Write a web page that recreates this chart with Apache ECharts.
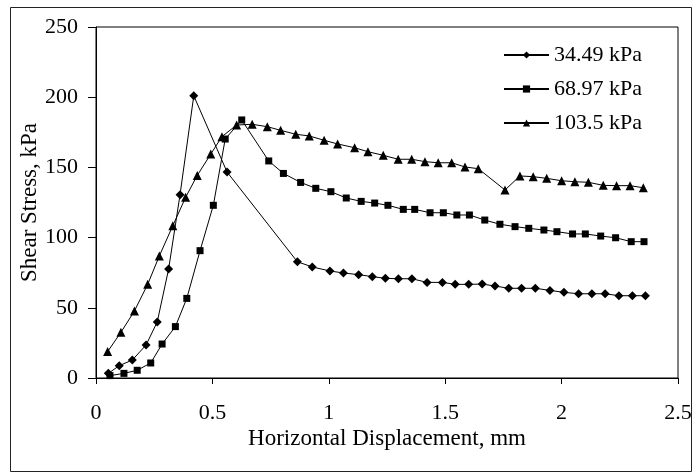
<!DOCTYPE html>
<html>
<head>
<meta charset="utf-8">
<script src="https://cdn.jsdelivr.net/npm/echarts@6/dist/echarts.min.js"></script>
<style>html,body{margin:0;padding:0;background:#fff}#c{width:696px;height:472px}</style>
</head>
<body>
<div id="c"></div>
<script>
var seriesNames = ['34.49 kPa', '68.97 kPa', '103.5 kPa'];
var xTitle = 'Horizontal Displacement, mm';
var yTitle = 'Shear Stress, kPa';

var x1 = [0.053, 0.100, 0.156, 0.215, 0.263, 0.312, 0.361, 0.420, 0.563, 0.865, 0.929, 1.005, 1.063, 1.128, 1.187, 1.243, 1.299, 1.357, 1.422, 1.488, 1.543, 1.601, 1.659, 1.714, 1.773, 1.828, 1.887, 1.950, 2.010, 2.073, 2.130, 2.187, 2.246, 2.304, 2.360];
var y1 = [3.3, 8.8, 12.8, 23.5, 39.9, 77.6, 130.6, 201, 146.7, 82.8, 79.1, 76.2, 74.8, 73.6, 72.2, 71, 70.7, 70.7, 68.1, 68.1, 66.7, 66.7, 66.9, 65.5, 63.9, 63.9, 63.9, 62.4, 61, 60, 60, 60, 58.6, 58.6, 58.6];

var x2 = [0.060, 0.120, 0.177, 0.235, 0.284, 0.341, 0.390, 0.447, 0.504, 0.555, 0.626, 0.742, 0.805, 0.879, 0.944, 1.009, 1.075, 1.139, 1.197, 1.254, 1.320, 1.369, 1.435, 1.492, 1.550, 1.604, 1.670, 1.735, 1.800, 1.859, 1.924, 1.980, 2.047, 2.102, 2.168, 2.232, 2.299, 2.354];
var y2 = [1.7, 3.3, 5.5, 10.7, 24.2, 36.6, 56.7, 90.7, 123, 170.2, 183.8, 154.6, 145.7, 139.3, 135.1, 132.7, 128.2, 125.8, 124.6, 123, 120.1, 120.1, 117.7, 117.7, 116.1, 116.1, 112.5, 109.5, 107.8, 106.6, 105.4, 104.2, 102.6, 102.6, 101.1, 99.9, 97.1, 97.1];

var x3 = [0.050, 0.107, 0.165, 0.222, 0.272, 0.330, 0.385, 0.435, 0.493, 0.541, 0.604, 0.671, 0.736, 0.793, 0.858, 0.916, 0.980, 1.038, 1.111, 1.168, 1.234, 1.298, 1.356, 1.413, 1.470, 1.528, 1.585, 1.642, 1.757, 1.821, 1.878, 1.936, 2.000, 2.057, 2.115, 2.179, 2.236, 2.294, 2.351];
var y3 = [18.8, 32.5, 47.7, 66.7, 86.9, 108.5, 128.7, 144.3, 159.5, 171.9, 180.2, 180.7, 179, 176.4, 173.6, 172.4, 169.3, 166.7, 164, 161.2, 158.6, 155.8, 155.8, 154.1, 153.3, 153.3, 150.3, 149.1, 133.9, 143.9, 143.4, 142.2, 140.5, 139.8, 139.4, 137.2, 137, 137, 135.5];

function zip(xs, ys) { return xs.map(function (x, i) { return [x, ys[i]]; }); }

var FONT = '"Liberation Serif", "Times New Roman", serif';
var chart = echarts.init(document.getElementById('c'), null, {renderer: 'canvas'});

function mkSeries(name, xs, ys, symbol, size) {
  return {
    name: name, type: 'line', data: zip(xs, ys),
    symbol: symbol, symbolSize: size, showSymbol: true,
    lineStyle: {color: '#000', width: 1},
    itemStyle: {color: '#000'},
    emphasis: {disabled: true}
  };
}

chart.setOption({
  animation: false,
  backgroundColor: '#fff',
  textStyle: {fontFamily: FONT},
  grid: {left: 96, right: 18, top: 27, bottom: 94, show: true, borderColor: '#000', borderWidth: 1},
  graphic: [{
    type: 'rect', left: 8, top: 5, silent: true,
    shape: {width: 681, height: 464},
    style: {fill: 'none', stroke: '#222', lineWidth: 1}
  }],
  legend: {
    data: seriesNames, orient: 'vertical', left: 498, top: 39,
    itemWidth: 45, itemHeight: 9, itemGap: 12,
    textStyle: {fontFamily: FONT, fontSize: 22, color: '#000'}
  },
  xAxis: {
    type: 'value', min: 0, max: 2.5, interval: 0.5,
    name: xTitle, nameLocation: 'middle', nameGap: 49, nameMoveOverlap: false,
    nameTextStyle: {fontFamily: FONT, fontSize: 23, color: '#000'},
    axisLine: {show: true, lineStyle: {color: '#000', width: 1}},
    axisTick: {show: true, length: 6, lineStyle: {color: '#000'}},
    axisLabel: {fontFamily: FONT, fontSize: 22, color: '#000', margin: 24},
    splitLine: {show: false}
  },
  yAxis: {
    type: 'value', min: 0, max: 250, interval: 50,
    name: yTitle, nameLocation: 'middle', nameGap: 55, nameMoveOverlap: false,
    nameTextStyle: {fontFamily: FONT, fontSize: 23, color: '#000'},
    axisLine: {show: true, lineStyle: {color: '#000', width: 1}},
    axisTick: {show: true, length: 8, lineStyle: {color: '#000'}},
    axisLabel: {fontFamily: FONT, fontSize: 22, color: '#000', margin: 18},
    splitLine: {show: false}
  },
  series: [
    mkSeries(seriesNames[0], x1, y1, 'diamond', 9),
    mkSeries(seriesNames[1], x2, y2, 'rect', 7),
    mkSeries(seriesNames[2], x3, y3, 'triangle', 9)
  ]
});
</script>
</body>
</html>
